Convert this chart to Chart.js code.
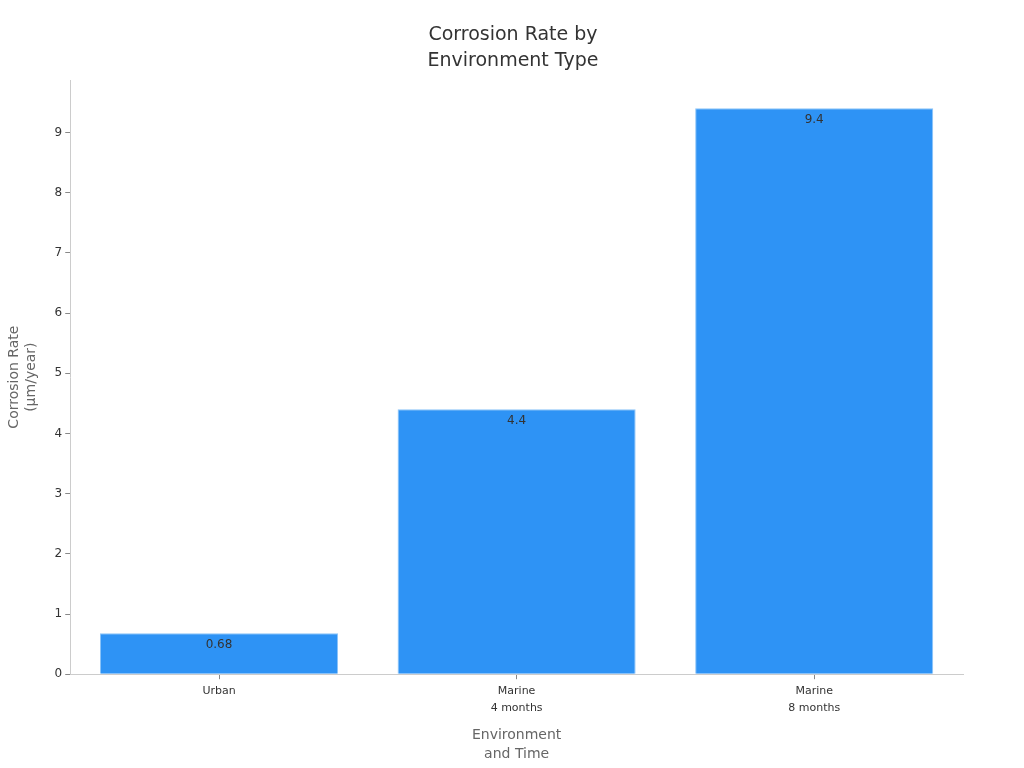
<!DOCTYPE html>
<html>
<head>
<meta charset="utf-8">
<script src="https://cdn.jsdelivr.net/npm/chart.js@4"></script>
<style>
  html, body { margin: 0; padding: 0; background: #fff; }
  #wrap { width: 1024px; height: 768px; }
</style>
</head>
<body>
<div id="wrap"><canvas id="chart"></canvas></div>
<script>
const categories = [["Urban"], ["Marine", "4 months"], ["Marine", "8 months"]]
const rates = [0.68, 4.4, 9.4]
const valueLabels = ["0.68", "4.4", "9.4"]

Chart.defaults.font.family = "'DejaVu Sans', sans-serif"

// value text just under the top edge of each bar
const barLabels = {
  id: "barLabels",
  afterDatasetsDraw(chart) {
    const { ctx } = chart
    const meta = chart.getDatasetMeta(0)
    ctx.save()
    ctx.font = "12px 'DejaVu Sans', sans-serif"
    ctx.fillStyle = "#333"
    ctx.textAlign = "center"
    ctx.textBaseline = "top"
    meta.data.forEach((bar, i) => {
      ctx.fillText(valueLabels[i], bar.x, bar.y + 6)
    })
    ctx.restore()
  }
}

const tickGrid = { display: true, drawOnChartArea: false, drawTicks: true, tickLength: 5, color: "#888" }

new Chart(document.getElementById("chart"), {
  type: "bar",
  data: {
    labels: categories,
    datasets: [{
      data: rates,
      backgroundColor: "#2E93F5",
      borderColor: "#8CC4F8",
      borderWidth: 1,
      barPercentage: 0.8,
      categoryPercentage: 1.0,
    }],
  },
  options: {
    responsive: true,
    maintainAspectRatio: false,
    animation: false,
    layout: { padding: { top: 12, right: 0, bottom: 0, left: 2 } },
    plugins: {
      legend: { display: false },
      tooltip: { enabled: false },
      title: {
        display: true,
        text: ["Corrosion Rate by", "Environment Type"],
        color: "#333",
        font: { size: 19, weight: "normal", lineHeight: 1.37 },
        padding: { top: 10, bottom: 6 },
      },
    },
    scales: {
      x: {
        grid: { ...tickGrid, offset: false },
        border: { color: "#ccc" },
        ticks: { color: "#333", font: { size: 11, lineHeight: 1.5 }, padding: 4 },
        title: {
          display: true,
          text: ["Environment", "and Time"],
          color: "#666",
          font: { size: 14, lineHeight: 1.35 },
          padding: { top: 6 },
        },
      },
      y: {
        min: 0,
        max: 9.87,
        grid: tickGrid,
        border: { color: "#ccc" },
        ticks: { stepSize: 1, color: "#333", font: { size: 12 }, padding: 3 },
        afterBuildTicks(axis) {
          axis.ticks = axis.ticks.filter(t => Number.isInteger(t.value))
        },
        title: {
          display: true,
          text: ["Corrosion Rate", "(µm/year)"],
          color: "#666",
          font: { size: 14 },
          padding: { bottom: 12 },
        },
      },
      // empty right axis, only to keep the plot clear of the right edge
      spacer: {
        position: "right",
        display: true,
        grid: { display: false },
        border: { display: false },
        ticks: { display: false },
        afterFit(axis) { axis.width = 61 },
      },
    },
  },
  plugins: [barLabels],
})
</script>
</body>
</html>
